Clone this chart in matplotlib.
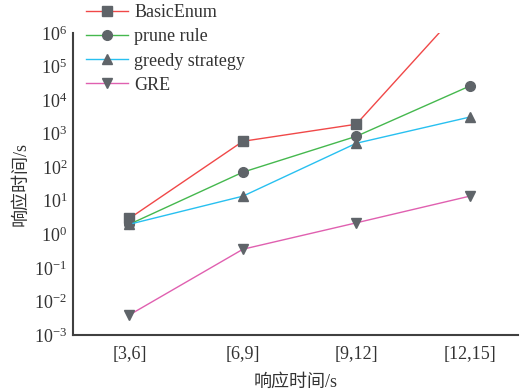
import matplotlib
matplotlib.use("Agg")
import matplotlib.pyplot as plt

plt.rcParams['font.family'] = ['Liberation Serif', 'Noto Sans CJK SC']
plt.rcParams['mathtext.fontset'] = 'stix'

categories = ['[3,6]', '[6,9]', '[9,12]', '[12,15]']
basic_enum = [3, 590, 1900, 1.0e7]
prune_rule = [2, 71, 830, 26000]
greedy = [2, 13.7, 515, 3100]
gre = [0.004, 0.36, 2.2, 13.7]

series = [
    ('BasicEnum', basic_enum, '#f04848', 's'),
    ('prune rule', prune_rule, '#45b84e', 'o'),
    ('greedy strategy', greedy, '#28c0f0', '^'),
    ('GRE', gre, '#e060b0', 'v'),
]

fig = plt.figure(figsize=(5.2, 3.91), dpi=100)
ax = fig.add_axes([0.140, 0.143, 0.857, 0.773])

x = range(len(categories))
for name, vals, color, mk in series:
    ax.plot(x, vals, color=color, lw=1.0, marker=mk, markersize=7,
            markerfacecolor='#5f6469', markeredgecolor='#5f6469', label=name)

ax.set_yscale('log')
ax.set_ylim(1e-3, 1e6)
ax.set_xlim(-0.5, 3.43)
ax.set_xticks(list(x))
ax.set_xticklabels(categories)
ax.set_yticks([10.0 ** k for k in range(-3, 7)])
ax.minorticks_off()
ax.tick_params(length=0, labelsize=13, colors='#333333')
ax.tick_params(axis='y', pad=4)
ax.tick_params(axis='x', pad=8)

for s in ['top', 'right']:
    ax.spines[s].set_visible(False)
for s in ['left', 'bottom']:
    ax.spines[s].set_color('#404040')
    ax.spines[s].set_linewidth(1.5)

ax.set_xlabel('响应时间/s', fontsize=13, color='#333333', labelpad=8)
ax.set_ylabel('响应时间/s', fontsize=13, color='#333333', labelpad=3)

leg = ax.legend(loc='upper left', bbox_to_anchor=(0.03, 1.095), frameon=False,
                fontsize=13, handlelength=2.3, handletextpad=0.35,
                labelspacing=0.4, borderaxespad=0, borderpad=0)
for t in leg.get_texts():
    t.set_color('#333333')

fig.savefig('out.png', dpi=100)
